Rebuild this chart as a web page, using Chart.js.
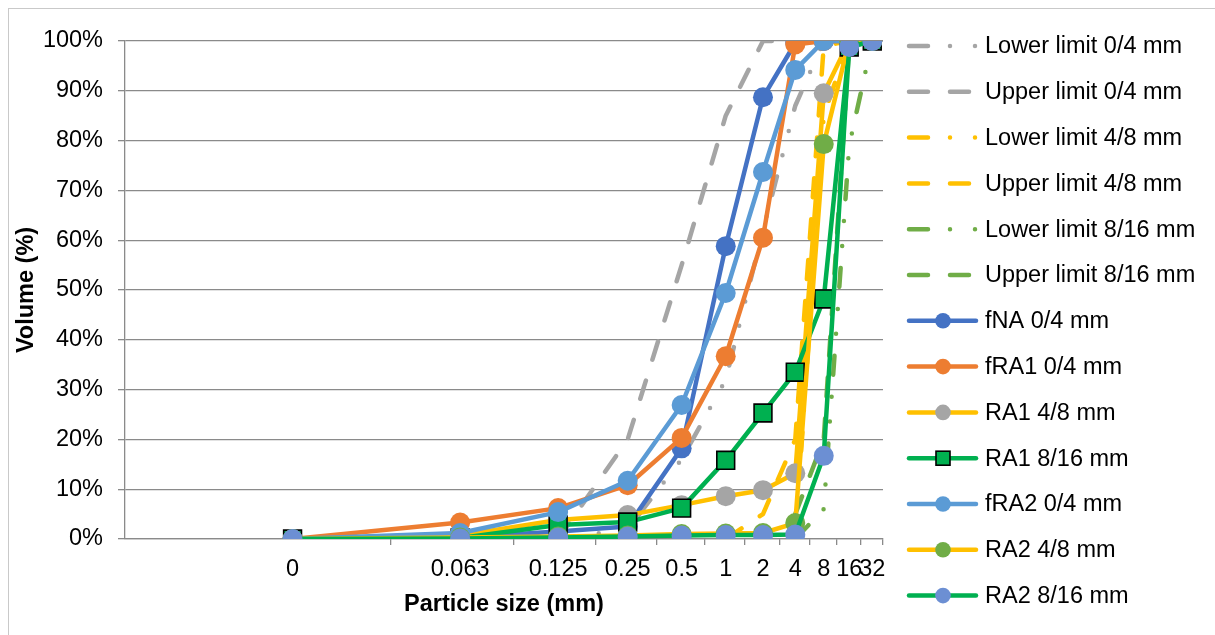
<!DOCTYPE html>
<html>
<head>
<meta charset="utf-8">
<script src="https://cdn.jsdelivr.net/npm/chart.js@4/dist/chart.umd.min.js"></script>
<style>
  html, body { margin: 0; padding: 0; background: #ffffff; }
  #wrap { width: 1215px; height: 635px; }
</style>
</head>
<body>
<div id="wrap"><canvas id="grading" width="1215" height="635"></canvas></div>
<script>
// Sieve sizes (mm) shown along the x axis, one category per sieve
const sieveSizes = ['0', '0.063', '0.125', '0.25', '0.5', '1', '2', '4', '8', '16', '32'];

// Percentage passing (%) at each sieve; null = no value for that sieve
const lowerLimit04  = [null, null, 0, 2, 16, 32, 62, 87, 100, null, null];
const upperLimit04  = [null, null, 0, 20, 55, 85, 100, 100, null, null, null];
const lowerLimit48  = [null, null, null, null, null, null, null, 0, 85, 100, null];
const upperLimit48  = [null, null, null, null, null, 0, 5, 20, 99, 100, null];
const lowerLimit816 = [null, null, null, null, null, null, null, 0, 6, 79, 100];
const upperLimit816 = [null, null, null, null, null, null, null, 5, 20, 99, 100];

const fNA04   = [0, 0.3, 1.5, 2.5, 18.2, 58.8, 88.7, 99.6, 100, 100, 100];
const fRA104  = [0, 3.3, 6.2, 10.8, 20.3, 36.7, 60.5, 99.3, 100, 100, 100];
const RA148   = [0, 0.7, 3.8, 4.8, 6.8, 8.6, 9.8, 13.2, 89.5, 100, 100];
const RA1816  = [0, 0.2, 2.8, 3.4, 6.2, 15.8, 25.3, 33.5, 48.2, 98.8, 100];
const fRA204  = [0, 1.2, 5.4, 11.7, 26.9, 49.4, 73.7, 94.2, 100, 100, 100];
const RA248   = [0, 0.3, 0.5, 0.7, 1.0, 1.1, 1.2, 3.2, 79.3, 100, 100];
const RA2816  = [0, 0.1, 0.3, 0.5, 0.7, 0.8, 0.8, 0.9, 16.7, 98.8, 100];

// Each sieve sits at its 1-based position on a logarithmic axis running 0.5 .. 11.5
const toPoints = values => values.map((v, i) => ({ x: i + 1, y: v }));

const GRAY = '#A5A5A5', GOLD = '#FFC000', LEAF = '#70AD47', GREEN = '#00B050';
const DASH = [19, 22];
const DASH_DOT_DOT = [19, 22, 0, 25, 0, 22];
const LINE_W = 4.5;

function limitSeries(label, values, color, dash) {
  return {
    label, data: toPoints(values),
    borderColor: color, backgroundColor: color,
    borderWidth: LINE_W, borderDash: dash, borderCapStyle: 'round', borderJoinStyle: 'round',
    pointRadius: 0, pointHoverRadius: 0, spanGaps: false, fill: false
  };
}

function measuredSeries(label, values, lineColor, markerColor, style) {
  const square = style === 'rect';
  return {
    label, data: toPoints(values),
    borderColor: lineColor, backgroundColor: lineColor,
    borderWidth: LINE_W, borderCapStyle: 'round', borderJoinStyle: 'round', fill: false,
    pointStyle: style,
    pointRadius: square ? 12.6 : 10,
    pointHoverRadius: square ? 12.6 : 10,
    pointBackgroundColor: markerColor,
    pointBorderColor: square ? '#000000' : markerColor,
    pointBorderWidth: square ? 1.6 : 0
  };
}

const datasets = [
  limitSeries('Lower limit 0/4 mm', lowerLimit04, GRAY, DASH_DOT_DOT),
  limitSeries('Upper limit 0/4 mm', upperLimit04, GRAY, DASH),
  limitSeries('Lower limit 4/8 mm', lowerLimit48, GOLD, DASH_DOT_DOT),
  limitSeries('Upper limit 4/8 mm', upperLimit48, GOLD, DASH),
  limitSeries('Lower limit 8/16 mm', lowerLimit816, LEAF, DASH_DOT_DOT),
  limitSeries('Upper limit 8/16 mm', upperLimit816, LEAF, DASH),
  measuredSeries('fNA 0/4 mm', fNA04, '#4472C4', '#4472C4', 'circle'),
  measuredSeries('fRA1 0/4 mm', fRA104, '#ED7D31', '#ED7D31', 'circle'),
  measuredSeries('RA1 4/8 mm', RA148, GOLD, GRAY, 'circle'),
  measuredSeries('RA1 8/16 mm', RA1816, GREEN, GREEN, 'rect'),
  measuredSeries('fRA2 0/4 mm', fRA204, '#5B9BD5', '#5B9BD5', 'circle'),
  measuredSeries('RA2 4/8 mm', RA248, GOLD, LEAF, 'circle'),
  measuredSeries('RA2 8/16 mm', RA2816, GREEN, '#6C8FD3', 'circle')
];
// later series are painted over earlier ones
datasets.forEach((ds, i) => { ds.order = datasets.length - i; });

const FONT = "'Liberation Sans', Arial, sans-serif";
const FONT_SIZE = 23.5;
const AXIS_GRAY = '#8A8A8A';

// White page with a thin frame
const framePlugin = {
  id: 'frame',
  beforeDraw(chart) {
    const ctx = chart.ctx;
    ctx.save();
    ctx.fillStyle = '#ffffff';
    ctx.fillRect(0, 0, chart.width, chart.height);
    ctx.strokeStyle = '#C9C9C9';
    ctx.lineWidth = 1;
    ctx.strokeRect(8.5, 8.5, chart.width + 10, chart.height + 10);
    ctx.restore();
  }
};

// Legend column to the right of the plot: line sample, marker, label
const sideLegend = {
  id: 'sideLegend',
  afterDraw(chart) {
    const ctx = chart.ctx;
    const x0 = 909, x1 = 976, xm = 943, xt = 985;
    const top = 46, step = 45.8;
    chart.data.datasets.forEach((ds, i) => {
      const y = top + i * step;
      ctx.save();
      ctx.strokeStyle = ds.borderColor;
      ctx.lineWidth = LINE_W;
      ctx.lineCap = 'round';
      ctx.setLineDash(ds.borderDash || []);
      ctx.beginPath();
      ctx.moveTo(x0, y);
      ctx.lineTo(x1, y);
      ctx.stroke();
      ctx.setLineDash([]);
      if (ds.pointRadius > 0) {
        ctx.fillStyle = ds.pointBackgroundColor;
        if (ds.pointStyle === 'rect') {
          const h = 7;
          ctx.fillRect(xm - h, y - h, 2 * h, 2 * h);
          ctx.strokeStyle = ds.pointBorderColor;
          ctx.lineWidth = 1.6;
          ctx.strokeRect(xm - h, y - h, 2 * h, 2 * h);
        } else {
          ctx.beginPath();
          ctx.arc(xm, y, 7.8, 0, Math.PI * 2);
          ctx.fill();
        }
      }
      ctx.fillStyle = '#000000';
      ctx.font = FONT_SIZE + 'px ' + FONT;
      ctx.textAlign = 'left';
      ctx.textBaseline = 'middle';
      ctx.fillText(ds.label, xt, y + 1);
      ctx.restore();
    });
  }
};

const halfStep = v => Math.abs(v - Math.round(v)) > 0.25;

new Chart(document.getElementById('grading'), {
  type: 'line',
  data: { datasets },
  plugins: [framePlugin, sideLegend],
  options: {
    responsive: false,
    animation: false,
    devicePixelRatio: 1,
    layout: { padding: { left: 0, top: 41, right: 332, bottom: 0 } },
    font: { family: FONT, size: FONT_SIZE },
    plugins: { legend: { display: false }, tooltip: { enabled: false } },
    scales: {
      x: {
        type: 'logarithmic',
        position: 'bottom',
        min: 0.5,
        max: 11.5,
        afterBuildTicks: scale => {
          const ticks = [];
          for (let i = 1; i <= sieveSizes.length; i++) {
            ticks.push({ value: i });
            ticks.push({ value: i + 0.5 });
          }
          scale.ticks = ticks;
        },
        afterFit: scale => { scale.height = 96; },
        ticks: {
          autoSkip: false,
          maxRotation: 0,
          minRotation: 0,
          padding: 10,
          color: '#000000',
          font: { family: FONT, size: FONT_SIZE },
          callback: v => halfStep(v) ? '' : sieveSizes[Math.round(v) - 1]
        },
        grid: {
          display: true,
          drawOnChartArea: false,
          drawTicks: true,
          tickLength: 6,
          lineWidth: 1.3,
          color: ctx => (ctx.tick && halfStep(ctx.tick.value)) ? AXIS_GRAY : 'rgba(0,0,0,0)'
        },
        border: { display: true, color: AXIS_GRAY, width: 1.3 },
        title: {
          display: true,
          text: 'Particle size (mm)',
          color: '#000000',
          font: { family: FONT, size: FONT_SIZE, weight: 'bold' },
          padding: { top: 0, bottom: 16 }
        }
      },
      y: {
        type: 'linear',
        min: 0,
        max: 100,
        afterFit: scale => { scale.width = 125; },
        ticks: {
          stepSize: 10,
          padding: 15,
          color: '#000000',
          font: { family: FONT, size: FONT_SIZE },
          callback: v => v + '%'
        },
        grid: { color: AXIS_GRAY, lineWidth: 1.3, tickLength: 7, drawTicks: true },
        border: { display: true, color: AXIS_GRAY, width: 1.3 },
        title: {
          display: true,
          text: 'Volume (%)',
          color: '#000000',
          font: { family: FONT, size: FONT_SIZE, weight: 'bold' },
          padding: { top: 12, bottom: 0 }
        }
      }
    }
  }
});
</script>
</body>
</html>
